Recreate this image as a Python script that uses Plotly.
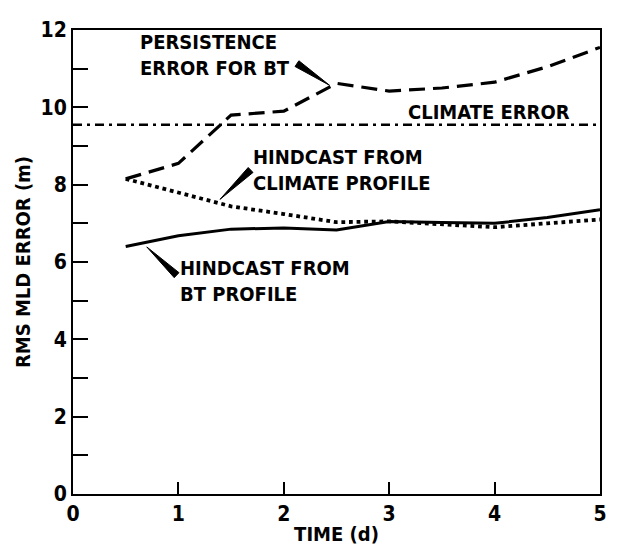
import plotly.graph_objects as go

# time axis (days)
t_persist = [0.5, 1.0, 1.4, 1.5, 2.0, 2.5, 3.0, 3.5, 4.0, 4.5, 5.0]
persistence_err = [8.15, 8.55, 9.55, 9.8, 9.9, 10.62, 10.42, 10.5, 10.65, 11.05, 11.55]

t_hind = [0.5, 1.0, 1.5, 2.0, 2.5, 3.0, 3.5, 4.0, 4.5, 5.0]
hind_climate = [8.15, 7.8, 7.44, 7.24, 7.03, 7.05, 6.98, 6.9, 7.0, 7.1]
hind_bt = [6.4, 6.68, 6.85, 6.88, 6.83, 7.05, 7.02, 7.0, 7.15, 7.35]

t_climate = [0, 5]
climate_err = [9.55, 9.55]

FONT = "Liberation Sans Narrow, DejaVu Sans Condensed, Arial Narrow, sans-serif"

# plot geometry in px (used only to build the wedge pointers)
PX_X = 106.8
PX_Y = 39.25


def wedge(base_x, base_y, tip_x, tip_y, half_w=3.5):
    # tapered pointer: wide at the label end, sharp at the curve
    dx = (tip_x - base_x) * PX_X
    dy = (tip_y - base_y) * PX_Y
    n = (dx ** 2 + dy ** 2) ** 0.5
    px, py = -dy / n * half_w, dx / n * half_w
    x1, y1 = base_x + px / PX_X, base_y + py / PX_Y
    x2, y2 = base_x - px / PX_X, base_y - py / PX_Y
    return f"M {x1} {y1} L {tip_x} {tip_y} L {x2} {y2} Z"


fig = go.Figure()

fig.add_trace(go.Scatter(x=t_climate, y=climate_err, mode="lines",
                         line=dict(color="black", width=2.5, dash="9px,5px,3px,5px")))
fig.add_trace(go.Scatter(x=t_persist, y=persistence_err, mode="lines",
                         line=dict(color="black", width=3.2, dash="16px,8px")))
fig.add_trace(go.Scatter(x=t_hind, y=hind_climate, mode="lines",
                         line=dict(color="black", width=3.8, dash="dot")))
fig.add_trace(go.Scatter(x=t_hind, y=hind_bt, mode="lines",
                         line=dict(color="black", width=3)))

# label pointers
pointers = [
    (2.125, 11.13, 2.434, 10.57),
    (1.685, 8.38, 1.395, 7.62),
    (0.983, 5.66, 0.70, 6.39),
]
for bx, by, tx, ty in pointers:
    fig.add_shape(type="path", path=wedge(bx, by, tx, ty), xref="x", yref="y",
                  fillcolor="black", line=dict(color="black", width=1))

labels = [
    (0.62, 11.35, "PERSISTENCE<br>ERROR FOR BT"),
    (1.69, 8.38, "HINDCAST FROM<br>CLIMATE PROFILE"),
    (1.0, 5.5, "HINDCAST FROM<br>BT PROFILE"),
    (3.16, 9.88, "CLIMATE ERROR"),
]
for x, y, text in labels:
    fig.add_annotation(x=x, y=y, text=f"<b>{text}</b>", showarrow=False,
                       xanchor="left", yanchor="middle", align="left",
                       font=dict(family=FONT, size=20, color="black"))

axis_common = dict(showline=True, linecolor="black", linewidth=2, mirror=True,
                   ticks="inside", tickcolor="black", tickwidth=2,
                   showgrid=False, zeroline=False,
                   tickfont=dict(family=FONT, size=21, color="black", weight="bold"))

fig.update_xaxes(range=[0, 5], tickvals=[0, 1, 2, 3, 4, 5], ticklen=12,
                 title=dict(text="<b>TIME (d)</b>", standoff=2,
                            font=dict(family=FONT, size=20, color="black")),
                 **axis_common)
fig.update_yaxes(range=[0, 12], tickvals=[0, 2, 4, 6, 8, 10, 12], ticklen=15,
                 minor=dict(dtick=1, ticks="inside", ticklen=15, tickwidth=2,
                            tickcolor="black"),
                 title=dict(text="<b>RMS MLD ERROR (m)</b>", standoff=5,
                            font=dict(family=FONT, size=20, color="black")),
                 **axis_common)

# page body adds an 8px offset, so the figure is sized to compensate
fig.update_layout(
    width=609, height=549,
    margin=dict(l=65, r=10, t=15, b=63),
    plot_bgcolor="white", paper_bgcolor="white",
    showlegend=False,
)

fig.write_html("out.html")
